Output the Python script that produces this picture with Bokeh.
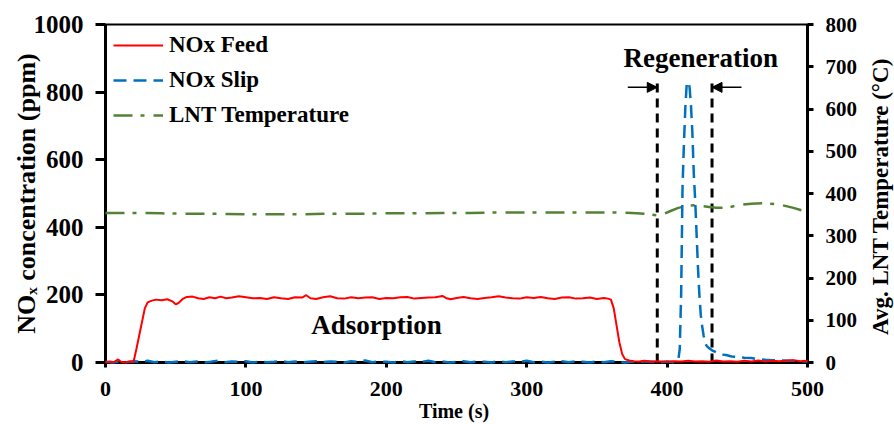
from bokeh.plotting import figure
from bokeh.layouts import row
from bokeh.models import (Range1d, LinearAxis, FixedTicker, Legend, LegendItem,
                          Label, Arrow, NormalHead)
from bokeh.embed import file_html
from bokeh.resources import INLINE

FONT = "Liberation Serif"

# ---- data ----
feed_t = [0, 3, 6, 9, 11, 14, 17, 20, 22, 25, 28, 30, 33, 36, 40, 44, 48, 50, 52, 55,
          58, 62, 66, 70, 74, 78, 82, 86, 90, 95, 100, 105, 110, 115, 120, 125, 130, 135,
          140, 143, 146, 150, 155, 160, 165, 170, 175, 180, 185, 190, 195, 200, 205, 210,
          215, 220, 225, 230, 235, 240, 243, 246, 250, 255, 260, 265, 270, 275, 280, 285,
          290, 295, 300, 305, 310, 315, 320, 325, 330, 335, 340, 345, 350, 355, 358, 360,
          362, 364, 366, 368, 370, 373, 376, 380, 384, 388, 392, 396, 400, 405, 410, 415,
          420, 425, 430, 435, 440, 445, 450, 455, 460, 465, 470, 475, 480, 485, 490, 495, 500]
feed_ppm = [0, 3, 1, 9, 2, 0, 3, 2, 40, 100, 160, 178, 183, 186, 184, 187, 180, 172, 176, 188,
            194, 195, 190, 188, 193, 190, 195, 190, 192, 196, 193, 190, 191, 188, 193, 190, 188, 193,
            192, 199, 190, 188, 193, 196, 190, 189, 193, 190, 192, 193, 188, 191, 190, 193,
            194, 189, 191, 192, 193, 197, 190, 187, 191, 194, 190, 188, 191, 193, 196, 192,
            190, 189, 193, 191, 194, 190, 188, 192, 193, 189, 190, 192, 188, 191, 189, 186,
            160, 110, 60, 25, 10, 6, 4, 3, 5, 2, 4, 3, 2, 4, 3, 5,
            3, 4, 2, 6, 3, 4, 2, 5, 3, 6, 3, 5, 4, 6, 7, 4, 5]

slip_t = [0, 5, 10, 15, 20, 25, 30, 35, 40, 45, 50, 55, 60, 65, 70, 75, 80, 85, 90, 95,
          100, 105, 110, 115, 120, 125, 130, 135, 140, 145, 150, 155, 160, 165, 170, 175,
          180, 185, 190, 195, 200, 205, 210, 215, 220, 225, 230, 235, 240, 245, 250, 255,
          260, 265, 270, 275, 280, 285, 290, 295, 300, 305, 310, 315, 320, 325, 330, 335,
          340, 345, 350, 355, 360, 365, 370, 375, 380, 385, 390, 395, 400, 405,
          408, 409, 410, 411, 412, 413, 414, 415, 416, 417, 418, 419, 420, 421, 422, 423,
          424, 425, 426, 427, 428, 430, 432, 435, 438, 442, 446, 450, 455, 460, 465, 470,
          475, 480, 485, 490, 495, 500]
slip_ppm = [2, 0, 3, 1, 4, 2, 5, 1, 3, 0, 2, 4, 1, 3, 0, 2, 5, 1, 3, 2,
            4, 0, 3, 1, 2, 5, 1, 3, 0, 2, 4, 1, 3, 2, 0, 4,
            2, 6, 1, 3, 2, 0, 4, 1, 3, 2, 5, 1, 3, 0, 2, 4,
            1, 3, 2, 0, 4, 1, 3, 2, 5, 1, 3, 0, 2, 4, 1, 3,
            2, 0, 3, 1, 4, 2, 0, 3, 1, 4, 2, 0, 3, 1,
            8, 40, 200, 520, 650, 755, 826, 830, 815, 760, 680, 560, 480, 380, 280, 200,
            140, 107, 80, 60, 50, 42, 36, 30, 24, 22, 18, 16, 14, 13, 10, 8,
            7, 6, 5, 5, 4, 3]

temp_t = [0, 10, 20, 40, 60, 80, 100, 120, 140, 160, 180, 200, 220, 240, 260, 280, 300,
          320, 340, 360, 375, 385, 393, 397, 402, 408, 415, 420, 425, 430, 435, 440, 445,
          450, 460, 470, 480, 490, 500]
temp_c = [354, 354, 354, 353, 352, 352, 351, 351, 351, 352, 352, 353, 353, 354, 354, 355, 355,
          355, 355, 355, 354, 352, 348, 351, 358, 366, 371, 372, 370, 368, 366, 366, 368,
          372, 376, 377, 374, 366, 356]

x_ticks = [0, 100, 200, 300, 400, 500]
left_ticks = [0, 200, 400, 600, 800, 1000]
right_ticks = [0, 100, 200, 300, 400, 500, 600, 700, 800]

REGEN_START = 393
REGEN_END = 432

# ---- main figure ----
p = figure(width=864, height=424, output_backend="svg", toolbar_location=None,
           x_range=Range1d(0, 500), y_range=Range1d(0, 1000),
           min_border_left=105, min_border_right=57, min_border_top=24, min_border_bottom=61)
p.extra_y_ranges = {"temp": Range1d(0, 800)}
p.grid.visible = False
p.outline_line_color = "black"
p.outline_line_width = 2
p.background_fill_color = "white"
p.border_fill_color = "white"

def style_axis(ax, size):
    ax.axis_line_color = "black"
    ax.axis_line_width = 3
    ax.major_tick_line_color = "black"
    ax.major_tick_line_width = 3
    ax.major_tick_in = 0
    ax.minor_tick_line_color = None
    ax.major_label_text_font = FONT
    ax.major_label_text_font_style = "bold"
    ax.major_label_text_font_size = size
    ax.major_label_text_color = "black"
    ax.axis_label_text_font = FONT
    ax.axis_label_text_font_style = "bold"
    ax.axis_label_text_color = "black"

xa = p.xaxis[0]
style_axis(xa, "22px")
xa.ticker = FixedTicker(ticks=x_ticks)
xa.major_tick_out = 5
xa.major_label_standoff = 14
xa.axis_label = "Time  (s)"
xa.axis_label_text_font_size = "20px"
xa.axis_label_standoff = 1

ya = p.yaxis[0]
style_axis(ya, "25px")
ya.ticker = FixedTicker(ticks=left_ticks)
ya.major_tick_out = 10
ya.major_label_standoff = 12
ya.axis_label = "NOₓ concentration (ppm)"
ya.axis_label_text_font_size = "26px"
ya.axis_label_standoff = -10

ra = LinearAxis(y_range_name="temp")
style_axis(ra, "21px")
ra.ticker = FixedTicker(ticks=right_ticks)
ra.major_tick_out = 6
ra.major_label_standoff = 12
p.add_layout(ra, "right")

# ---- series ----
r_temp = p.line(temp_t, temp_c, y_range_name="temp", line_color="#548235", line_width=2.5,
                line_dash="19 8 4 9")
r_slip = p.line(slip_t, slip_ppm, line_color="#0070C0", line_width=2.5, line_dash="13 7")
r_feed = p.line(feed_t, feed_ppm, line_color="#FF0000", line_width=2)
for r in (r_temp, r_slip, r_feed):
    r.level = "overlay"

# regeneration markers
p.segment(x0=[REGEN_START, REGEN_END], y0=[0, 0], x1=[REGEN_START, REGEN_END], y1=[835, 835],
          line_color="black", line_width=3, line_dash="9 6")
head = dict(size=10, fill_color="black", line_color="black")
p.add_layout(Arrow(end=NormalHead(**head), x_start=372, y_start=814, x_end=REGEN_START, y_end=814,
                   line_color="black", line_width=1.5))
p.add_layout(Arrow(end=NormalHead(**head), x_start=453, y_start=814, x_end=REGEN_END, y_end=814,
                   line_color="black", line_width=1.5))

p.add_layout(Label(x=424, y=900, text="Regeneration", text_font=FONT, text_font_style="bold",
                   text_font_size="27px", text_align="center", text_baseline="middle",
                   text_color="black"))
p.add_layout(Label(x=193, y=110, text="Adsorption", text_font=FONT, text_font_style="bold",
                   text_font_size="27px", text_align="center", text_baseline="middle",
                   text_color="black"))

legend = Legend(items=[LegendItem(label="NOx Feed", renderers=[r_feed]),
                       LegendItem(label="NOx Slip", renderers=[r_slip]),
                       LegendItem(label="LNT Temperature", renderers=[r_temp])],
                location="top_left", margin=0, padding=8, spacing=9,
                label_height=24, glyph_height=24, glyph_width=50, label_standoff=6,
                label_text_font=FONT, label_text_font_style="bold", label_text_font_size="23px",
                label_text_color="black",
                background_fill_alpha=0, border_line_alpha=0)
p.add_layout(legend)

# ---- narrow strip carrying the right-hand axis title (reads bottom-to-top) ----
p2 = figure(width=30, height=424, output_backend="svg", toolbar_location=None,
            x_range=Range1d(0, 1), y_range=Range1d(0, 800),
            min_border_left=28, min_border_right=0, min_border_top=24, min_border_bottom=61)
p2.grid.visible = False
p2.outline_line_color = None
p2.background_fill_color = "white"
p2.border_fill_color = "white"
p2.xaxis.visible = False
ta = p2.yaxis[0]
ta.ticker = FixedTicker(ticks=[])
ta.axis_line_color = None
ta.major_tick_line_color = None
ta.minor_tick_line_color = None
ta.major_label_text_font_size = "0px"
ta.axis_label = "Avg. LNT Temperature  (°C)"
ta.axis_label_text_font = FONT
ta.axis_label_text_font_style = "bold"
ta.axis_label_text_font_size = "23px"
ta.axis_label_text_color = "black"
ta.axis_label_standoff = 0

layout = row(p, p2, spacing=0)
open("out.html", "w").write(file_html(layout, INLINE))
